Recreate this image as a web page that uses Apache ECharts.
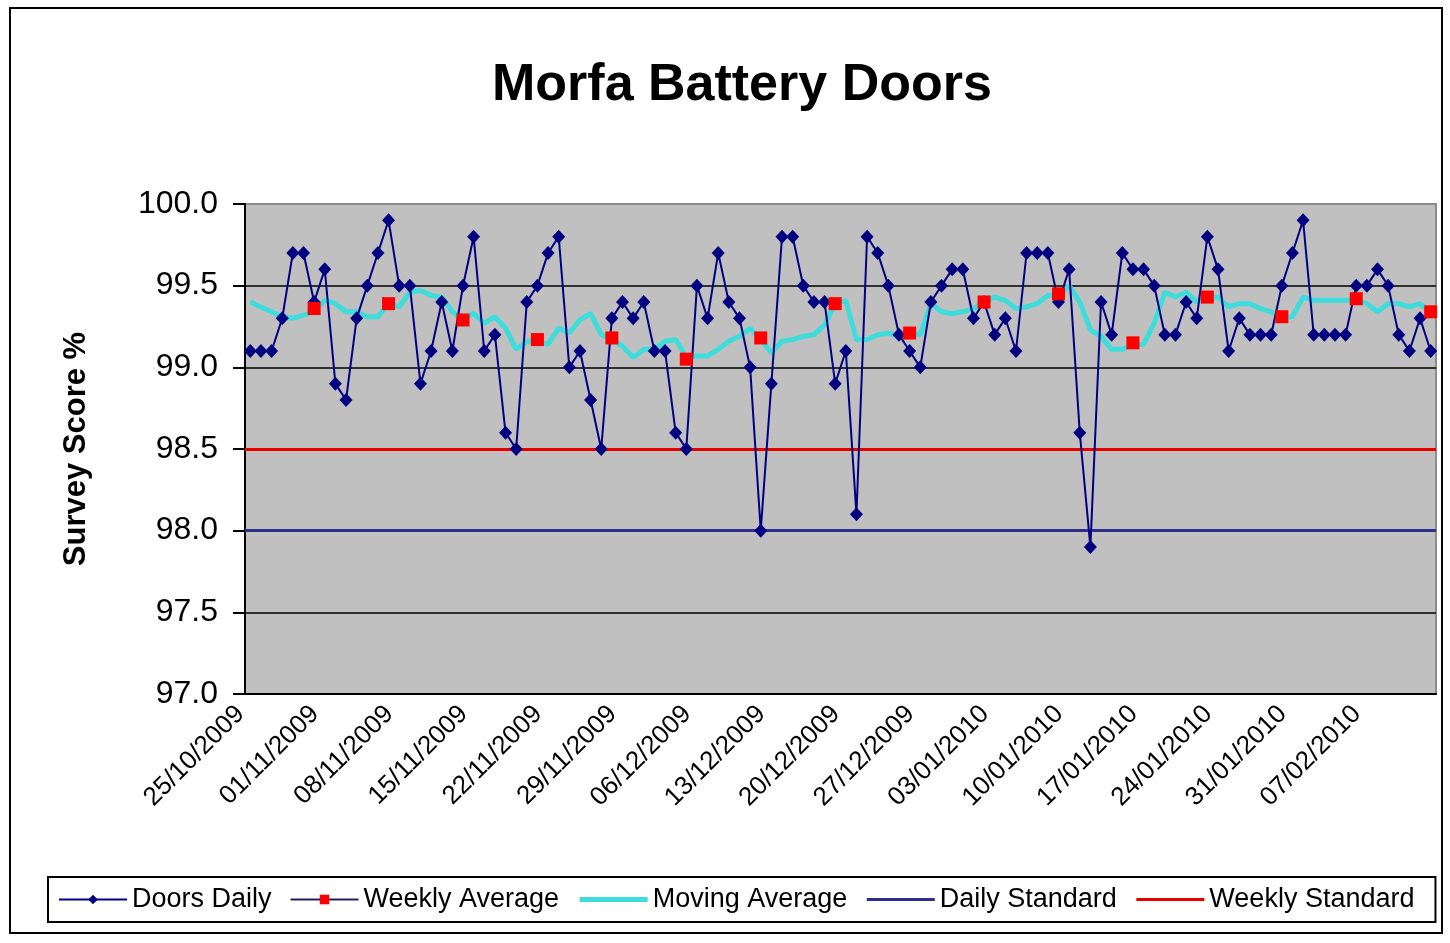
<!DOCTYPE html>
<html>
<head>
<meta charset="utf-8">
<script src="https://cdn.jsdelivr.net/npm/echarts@6/dist/echarts.min.js"></script>
<style>
    html, body {
        margin: 0;
        padding: 0;
        background: #fff;
    }
    #frame {
        position: absolute;
        left: 9px;
        top: 7px;
        width: 1434px;
        height: 927px;
        border: 2px solid #000;
        box-sizing: border-box;
    }
    #chart {
        position: absolute;
        left: 0;
        top: 0;
        width: 1450px;
        height: 943px;
    }
</style>
</head>
<body>
<div id="frame"></div>
<div id="chart"></div>
<script>
// 每日数据 25/10/2009 起, 共 112 天
const START_DATE = [2009, 9, 25]
const DAY_COUNT = 112

const doorsDaily = [
    99.1, 99.1, 99.1, 99.3, 99.7, 99.7, 99.4, 99.6, 98.9, 98.8,
    99.3, 99.5, 99.7, 99.9, 99.5, 99.5, 98.9, 99.1, 99.4, 99.1,
    99.5, 99.8, 99.1, 99.2, 98.6, 98.5, 99.4, 99.5, 99.7, 99.8,
    99.0, 99.1, 98.8, 98.5, 99.3, 99.4, 99.3, 99.4, 99.1, 99.1,
    98.6, 98.5, 99.5, 99.3, 99.7, 99.4, 99.3, 99.0, 98.0, 98.9,
    99.8, 99.8, 99.5, 99.4, 99.4, 98.9, 99.1, 98.1, 99.8, 99.7,
    99.5, 99.2, 99.1, 99.0, 99.4, 99.5, 99.6, 99.6, 99.3, 99.4,
    99.2, 99.3, 99.1, 99.7, 99.7, 99.7, 99.4, 99.6, 98.6, 97.9,
    99.4, 99.2, 99.7, 99.6, 99.6, 99.5, 99.2, 99.2, 99.4, 99.3,
    99.8, 99.6, 99.1, 99.3, 99.2, 99.2, 99.2, 99.5, 99.7, 99.9,
    99.2, 99.2, 99.2, 99.2, 99.5, 99.5, 99.6, 99.5, 99.2, 99.1,
    99.3, 99.1
]

const movingAverage = [
    99.40, 99.37, 99.34, 99.31, 99.30, 99.32, 99.34, 99.41, 99.39, 99.34,
    99.34, 99.31, 99.31, 99.39, 99.37, 99.46, 99.47, 99.44, 99.43, 99.34,
    99.29, 99.33, 99.27, 99.31, 99.24, 99.11, 99.16, 99.16, 99.14, 99.24,
    99.21, 99.29, 99.33, 99.20, 99.17, 99.13, 99.06, 99.11, 99.11, 99.16,
    99.17, 99.06, 99.07, 99.07, 99.11, 99.16, 99.19, 99.24, 99.17, 99.09,
    99.16, 99.17, 99.19, 99.20, 99.26, 99.39, 99.41, 99.17, 99.17, 99.20,
    99.21, 99.19, 99.21, 99.20, 99.39, 99.34, 99.33, 99.34, 99.36, 99.40,
    99.43, 99.41, 99.36, 99.37, 99.39, 99.44, 99.44, 99.50, 99.40, 99.23,
    99.19, 99.11, 99.11, 99.14, 99.14, 99.27, 99.46, 99.43, 99.46, 99.40,
    99.43, 99.43, 99.37, 99.39, 99.39, 99.36, 99.34, 99.30, 99.31, 99.43,
    99.41, 99.41, 99.41, 99.41, 99.41, 99.39, 99.34, 99.39, 99.39, 99.37,
    99.39, 99.34
]

const weeklyDates = [
    '31/10/2009', '07/11/2009', '14/11/2009', '21/11/2009', '28/11/2009', '05/12/2009',
    '12/12/2009', '19/12/2009', '26/12/2009', '02/01/2010', '09/01/2010', '16/01/2010',
    '23/01/2010', '30/01/2010', '06/02/2010', '13/02/2010'
]
const weeklyAverage = [
    99.36, 99.39, 99.29, 99.17, 99.18, 99.05, 99.18, 99.39,
    99.21, 99.40, 99.45, 99.15, 99.43, 99.31, 99.42, 99.34
]

const DAILY_STANDARD = 98.0
const WEEKLY_STANDARD = 98.5

const Y_MIN = 97.0
const Y_MAX = 100.0
const Y_STEP = 0.5

const FONT = "'Liberation Sans', Arial, sans-serif"

/** 日期分类 dd/mm/yyyy */
const pad = (n) => (n < 10 ? '0' + n : '' + n)
const dates = []
for (let i = 0; i < DAY_COUNT; i++) {
    const d = new Date(Date.UTC(START_DATE[0], START_DATE[1], START_DATE[2] + i))
    dates.push(`${pad(d.getUTCDate())}/${pad(d.getUTCMonth() + 1)}/${d.getUTCFullYear()}`)
}
// 周平均只落在每周六, 其余为空
const weeklySeriesData = dates.map((d) => {
    const k = weeklyDates.indexOf(d)
    return k >= 0 ? weeklyAverage[k] : null
})

const myChart = echarts.init(document.getElementById('chart'), null, { renderer: 'canvas' })
const option = {
    backgroundColor: 'transparent',
    animation: false,
    textStyle: { fontFamily: FONT },
    title: {
        text: 'Morfa Battery Doors',
        left: 487,
        top: 55,
        textStyle: {
            fontFamily: FONT,
            fontSize: 52,
            fontWeight: 'bold',
            color: '#000'
        }
    },
    legend: {
        left: 48,
        top: 877,
        padding: [9, 21, 9, 10],
        borderColor: '#000',
        borderWidth: 2,
        itemWidth: 68,
        itemHeight: 12,
        itemGap: 18,
        textStyle: {
            fontFamily: FONT,
            fontSize: 27,
            color: '#000'
        },
        data: [
            { name: 'Doors Daily' },
            { name: 'Weekly Average' },
            { name: 'Moving Average', itemStyle: { opacity: 0 }, lineStyle: { width: 5 } },
            { name: 'Daily Standard', itemStyle: { opacity: 0 }, lineStyle: { width: 3 } },
            { name: 'Weekly Standard', itemStyle: { opacity: 0 }, lineStyle: { width: 3 } }
        ]
    },
    grid: {
        left: 245,
        top: 204,
        right: 14,
        bottom: 249,
        show: true,
        backgroundColor: '#c0c0c0',
        borderColor: '#8c8c8c',
        borderWidth: 2,
        containLabel: false
    },
    xAxis: {
        type: 'category',
        boundaryGap: true,
        data: dates,
        axisLine: { lineStyle: { color: '#000', width: 2 } },
        axisTick: {
            interval: 6,
            length: 8,
            lineStyle: { color: '#000', width: 2 }
        },
        axisLabel: {
            interval: 6,
            rotate: 45,
            margin: 6,
            padding: [0, 14, 0, 0],
            fontFamily: FONT,
            fontSize: 26,
            color: '#000'
        },
        splitLine: { show: false }
    },
    yAxis: {
        type: 'value',
        min: Y_MIN,
        max: Y_MAX,
        interval: Y_STEP,
        name: 'Survey Score %',
        nameLocation: 'middle',
        nameGap: 153,
        nameTextStyle: {
            fontFamily: FONT,
            fontSize: 31,
            fontWeight: 'bold',
            color: '#000'
        },
        axisLine: { show: true, lineStyle: { color: '#000', width: 2 } },
        axisTick: { show: true, length: 12, lineStyle: { color: '#000', width: 2 } },
        axisLabel: {
            margin: 27,
            fontFamily: FONT,
            fontSize: 32,
            color: '#000',
            formatter: (val) => val.toFixed(1)
        },
        splitLine: {
            show: true,
            showMaxLine: false,
            lineStyle: { color: '#000', width: 1.5 }
        }
    },
    series: [
        {
            name: 'Doors Daily',
            type: 'line',
            data: doorsDaily,
            symbol: 'diamond',
            symbolSize: [13, 14],
            showAllSymbol: true,
            itemStyle: { color: '#000080' },
            lineStyle: { color: '#000080', width: 2 },
            z: 5
        },
        {
            name: 'Weekly Average',
            type: 'line',
            data: weeklySeriesData,
            connectNulls: false,
            symbol: 'rect',
            symbolSize: 13,
            showSymbol: true,
            showAllSymbol: true,
            itemStyle: { color: '#ff0000' },
            lineStyle: { color: '#202060', width: 2 },
            z: 6
        },
        {
            name: 'Moving Average',
            type: 'line',
            data: movingAverage,
            showSymbol: false,
            symbol: 'none',
            itemStyle: { color: '#3fdcdc' },
            lineStyle: { color: '#3fdcdc', width: 5 },
            z: 4
        },
        {
            name: 'Daily Standard',
            type: 'line',
            data: [],
            symbol: 'none',
            itemStyle: { color: '#2e2e8c' },
            lineStyle: { color: '#2e2e8c', width: 3 },
            markLine: {
                silent: true,
                symbol: 'none',
                label: { show: false },
                lineStyle: { color: '#2e2e8c', width: 3, type: 'solid' },
                data: [{ yAxis: DAILY_STANDARD }]
            },
            z: 3
        },
        {
            name: 'Weekly Standard',
            type: 'line',
            data: [],
            symbol: 'none',
            itemStyle: { color: '#e60000' },
            lineStyle: { color: '#e60000', width: 3 },
            markLine: {
                silent: true,
                symbol: 'none',
                label: { show: false },
                lineStyle: { color: '#e60000', width: 3, type: 'solid' },
                data: [{ yAxis: WEEKLY_STANDARD }]
            },
            z: 3
        }
    ]
}
myChart.setOption(option)
</script>
</body>
</html>
